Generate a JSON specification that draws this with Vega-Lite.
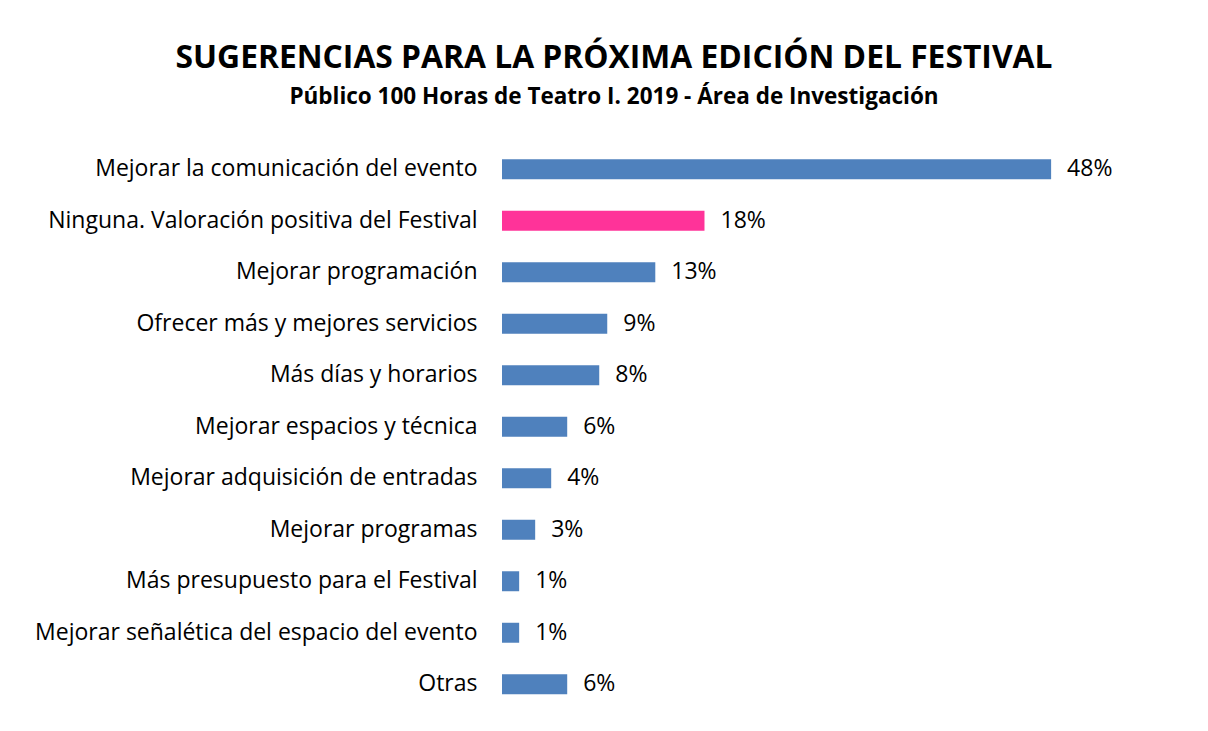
{
  "$schema": "https://vega.github.io/schema/vega-lite/v6.json",
  "autosize": {"type": "none"},
  "padding": {"left": 502, "top": 143.5, "right": 134, "bottom": 20.5},
  "width": 572,
  "height": 566.5,
  "background": "white",
  "title": {
    "text": "SUGERENCIAS PARA LA PRÓXIMA EDICIÓN DEL FESTIVAL",
    "subtitle": "Público 100 Horas de Teatro I. 2019 - Área de Investigación",
    "anchor": "middle",
    "frame": "group",
    "dx": -174,
    "offset": 35,
    "font": "Open Sans",
    "fontSize": 31.8,
    "fontWeight": "bold",
    "color": "#000000",
    "subtitleFont": "Open Sans",
    "subtitleFontSize": 22.5,
    "subtitleFontWeight": "bold",
    "subtitleColor": "#000000",
    "subtitlePadding": 11
  },
  "data": {
    "values": [
      {"categoria": "Mejorar la comunicación del evento", "valor": 48, "etiqueta": "48%"},
      {"categoria": "Ninguna. Valoración positiva del Festival", "valor": 17.7, "etiqueta": "18%"},
      {"categoria": "Mejorar programación", "valor": 13.4, "etiqueta": "13%"},
      {"categoria": "Ofrecer más y mejores servicios", "valor": 9.2, "etiqueta": "9%"},
      {"categoria": "Más días y horarios", "valor": 8.5, "etiqueta": "8%"},
      {"categoria": "Mejorar espacios y técnica", "valor": 5.7, "etiqueta": "6%"},
      {"categoria": "Mejorar adquisición de entradas", "valor": 4.3, "etiqueta": "4%"},
      {"categoria": "Mejorar programas", "valor": 2.9, "etiqueta": "3%"},
      {"categoria": "Más presupuesto para el Festival", "valor": 1.5, "etiqueta": "1%"},
      {"categoria": "Mejorar señalética del espacio del evento", "valor": 1.5, "etiqueta": "1%"},
      {"categoria": "Otras", "valor": 5.7, "etiqueta": "6%"}
    ]
  },
  "encoding": {
    "y": {
      "field": "categoria",
      "type": "nominal",
      "sort": null,
      "scale": {"paddingInner": 0.612, "paddingOuter": 0.306},
      "axis": {
        "title": null,
        "domain": false,
        "ticks": false,
        "labelPadding": 25,
        "labelFont": "Open Sans",
        "labelFontSize": 23,
        "labelColor": "#000000",
        "labelLimit": 600
      }
    },
    "x": {
      "field": "valor",
      "type": "quantitative",
      "scale": {"domain": [0, 50], "nice": false},
      "axis": null
    }
  },
  "layer": [
    {
      "mark": {"type": "bar"},
      "encoding": {
        "color": {
          "condition": {"test": "indexof(datum.categoria, 'Ninguna') === 0", "value": "#ff3399"},
          "value": "#4f81bd"
        }
      }
    },
    {
      "mark": {
        "type": "text",
        "align": "left",
        "baseline": "middle",
        "dx": 16,
        "font": "Open Sans",
        "fontSize": 23,
        "color": "#000000"
      },
      "encoding": {"text": {"field": "etiqueta"}}
    }
  ],
  "config": {"view": {"stroke": null}}
}
